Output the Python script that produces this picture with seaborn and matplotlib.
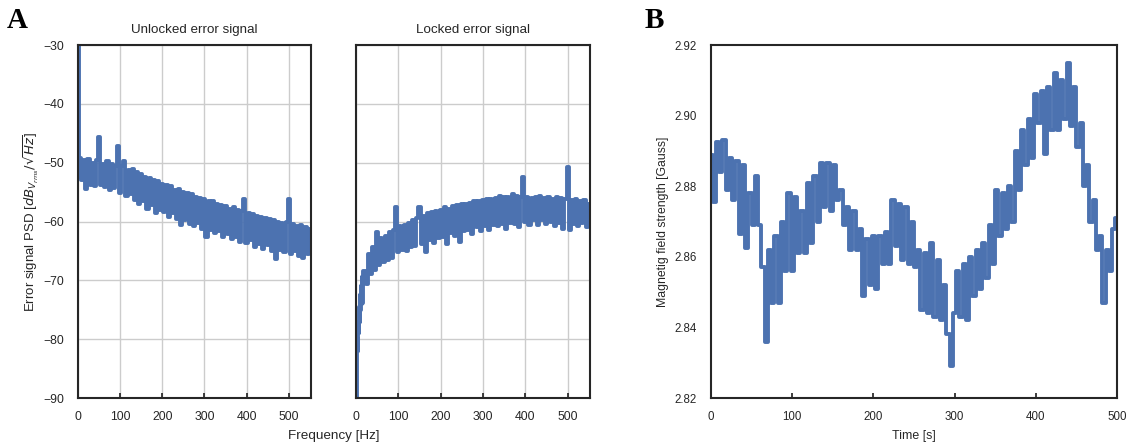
import numpy as np
import pandas as pd
import matplotlib
matplotlib.use("Agg")
import matplotlib.pyplot as plt
import seaborn as sns

# ---------------- data ----------------
# Unlocked error-signal PSD [dB]
unlocked_freq_low = [0, 1, 2, 3, 4]
unlocked_psd_low = [-30.0, -30.0, -43.0, -52.5, -50.0]
unlocked_freq_main = list(range(5, 555, 5))
unlocked_psd_main = [
    -49.2, -53.0, -49.5, -54.5, -49.3, -53.8, -50.0, -54.0, -49.6, -45.6,
    -53.8, -50.2, -54.2, -49.8, -54.6, -50.3, -54.3, -50.6, -47.2, -55.2,
    -50.6, -49.8, -55.6, -51.2, -55.4, -51.0, -56.4, -51.6, -57.0, -52.0,
    -56.6, -52.4, -57.8, -52.6, -57.2, -53.0, -58.6, -53.2, -58.0, -53.6,
    -58.4, -53.8, -59.2, -54.0, -58.6, -54.6, -59.6, -54.4, -60.6, -55.0,
    -59.8, -55.2, -60.4, -55.4, -60.8, -55.8, -60.2, -56.0, -61.2, -56.2,
    -62.6, -56.6, -61.4, -56.6, -62.0, -57.0, -61.6, -57.2, -62.6, -57.4,
    -62.2, -57.8, -63.0, -57.6, -62.6, -58.0, -63.4, -58.2, -56.2, -63.6,
    -58.6, -63.2, -58.8, -64.4, -59.0, -63.8, -59.2, -64.6, -59.4, -64.0,
    -59.6, -65.0, -59.8, -66.4, -60.0, -64.8, -60.2, -65.2, -60.0, -56.2,
    -65.6, -60.4, -65.0, -60.8, -65.8, -60.6, -66.2, -61.0, -65.6, -61.2,
]

# Locked error-signal PSD [dB]
locked_freq_low = list(range(0, 15))
locked_psd_low = [-78.0, -92.0, -85.0, -86.0, -80.0, -82.0, -77.0, -79.0,
                  -74.5, -77.0, -72.5, -75.0, -71.0, -74.0, -69.5]
locked_freq_main = list(range(15, 555, 5))
locked_psd_main = [
    -73.8, -68.4, -70.6, -65.6, -69.0, -64.4, -68.2, -61.8,
    -67.4, -62.8, -66.8, -62.4, -66.6, -61.8, -66.2, -61.4, -57.6, -65.2,
    -60.8, -64.8, -60.6, -65.0, -60.2, -64.4, -59.8, -64.2, -59.4, -57.6,
    -63.8, -59.0, -65.2, -58.6, -63.2, -58.4, -63.6, -58.2, -62.8, -58.0,
    -62.6, -57.6, -63.8, -57.8, -62.0, -57.4, -62.4, -57.2, -63.4, -57.0,
    -61.6, -57.0, -61.4, -56.8, -62.2, -56.6, -61.0, -56.6, -61.6, -56.4,
    -60.8, -56.2, -61.4, -56.2, -60.6, -56.0, -60.8, -55.6, -60.4, -55.8,
    -61.2, -55.8, -60.2, -55.4, -60.4, -55.6, -61.0, -55.8, -52.4, -60.0,
    -55.8, -60.6, -56.0, -59.8, -55.8, -60.6, -55.6, -59.8, -56.0, -60.4,
    -55.8, -60.0, -56.2, -60.8, -55.8, -60.2, -56.0, -61.2, -56.2, -50.8,
    -61.4, -56.4, -60.4, -56.2, -60.8, -56.6, -60.2, -56.4, -61.0, -57.0,
]

# Magnetic field strength over time
time_s = list(range(0, 501, 4))
field_gauss = [
    2.8888, 2.8755, 2.8925, 2.8840, 2.8930, 2.8790, 2.8880, 2.8760, 2.8870, 2.8665,
    2.8860, 2.8625, 2.8780, 2.8690, 2.8830, 2.8690, 2.8570, 2.8360, 2.8620, 2.8470,
    2.8660, 2.8470, 2.8700, 2.8560, 2.8780, 2.8560, 2.8770, 2.8610, 2.8730, 2.8610,
    2.8810, 2.8640, 2.8830, 2.8700, 2.8865, 2.8740, 2.8865, 2.8730, 2.8860, 2.8760,
    2.8790, 2.8690, 2.8740, 2.8620, 2.8730, 2.8620, 2.8680, 2.8490, 2.8650, 2.8520,
    2.8660, 2.8510, 2.8660, 2.8580, 2.8670, 2.8580, 2.8760, 2.8630, 2.8750, 2.8590,
    2.8740, 2.8580, 2.8700, 2.8570, 2.8620, 2.8450, 2.8610, 2.8440, 2.8640, 2.8430,
    2.8590, 2.8420, 2.8520, 2.8380, 2.8290, 2.8440, 2.8560, 2.8430, 2.8580, 2.8420,
    2.8600, 2.8490, 2.8620, 2.8510, 2.8640, 2.8540, 2.8690, 2.8580, 2.8790, 2.8660,
    2.8780, 2.8680, 2.8800, 2.8700, 2.8900, 2.8790, 2.8960, 2.8860, 2.8990, 2.8880,
    2.9060, 2.8980, 2.9070, 2.8890, 2.9080, 2.8960, 2.9120, 2.8960, 2.9100, 2.8990,
    2.9150, 2.8970, 2.9080, 2.8910, 2.8980, 2.8800, 2.8860, 2.8700, 2.8760, 2.8620,
    2.8660, 2.8470, 2.8620, 2.8560, 2.8680, 2.8710,
]

psd_xticks = [0, 100, 200, 300, 400, 500]
psd_yticks = [-90, -80, -70, -60, -50, -40, -30]
b_xticks = [0, 100, 200, 300, 400, 500]
b_yticks = [2.82, 2.84, 2.86, 2.88, 2.90, 2.92]

# ---------------- style ----------------
sns.set_theme(style="whitegrid", rc={
    "axes.edgecolor": ".15",
    "axes.linewidth": 1.5,
    "grid.color": "#cccccc",
    "grid.linewidth": 1.0,
})
plt.rcParams["font.family"] = ["Liberation Sans", "DejaVu Sans"]
line_color = "#4C72B0"

fig = plt.figure(figsize=(11.27, 4.44), dpi=100)
W, H = 1127, 444
def rect(l, r, t, b):
    return [l / W, 1 - b / H, (r - l) / W, (b - t) / H]

ax1 = fig.add_axes(rect(78, 311, 45, 398))
ax2 = fig.add_axes(rect(356, 590, 45, 398), sharey=ax1)
ax3 = fig.add_axes(rect(711, 1117, 45, 398))

df_u = pd.DataFrame({"f": unlocked_freq_low + unlocked_freq_main,
                     "psd": unlocked_psd_low + unlocked_psd_main})
df_l = pd.DataFrame({"f": locked_freq_low + locked_freq_main,
                     "psd": locked_psd_low + locked_psd_main})
df_b = pd.DataFrame({"t": time_s, "g": field_gauss})

common = dict(color=line_color, estimator=None, sort=False,
              drawstyle="steps-mid", lw=2.8)
sns.lineplot(data=df_u, x="f", y="psd", ax=ax1, **common)
sns.lineplot(data=df_l, x="f", y="psd", ax=ax2, **common)
sns.lineplot(data=df_b, x="t", y="g", ax=ax3, **common)

tick_fs = 8.8
for ax in (ax1, ax2):
    ax.set_xlim(0, 553)
    ax.set_ylim(-90, -30)
    ax.set_xticks(psd_xticks)
    ax.set_yticks(psd_yticks)
    ax.set_xlabel("")
    ax.set_ylabel("")
    ax.tick_params(axis="x", direction="in", length=3.5, width=1.25,
                   bottom=True, labelsize=tick_fs, colors=".15", pad=9)
    ax.tick_params(axis="y", length=0, labelsize=tick_fs, colors=".15", pad=10)
    for s in ax.spines.values():
        s.set_visible(True)
        s.set_color(".15")
        s.set_linewidth(1.5)
ax2.tick_params(axis="y", labelleft=False)

ax1.set_yticklabels(["\u221290", "\u221280", "\u221270", "\u221260",
                     "\u221250", "\u221240", "\u221230"])
ax1.set_title("Unlocked error signal", fontsize=9.6, color=".15", pad=9)
ax2.set_title("Locked error signal", fontsize=9.6, color=".15", pad=9)
ax1.set_ylabel(r"Error signal PSD [$dB_{V_{rms}}/\sqrt{Hz}$]", fontsize=9.5,
               color=".15", labelpad=1.5)

ax3.grid(False)
ax3.set_xlim(0, 500)
ax3.set_ylim(2.82, 2.92)
ax3.set_xticks(b_xticks)
ax3.set_yticks(b_yticks)
ax3.set_yticklabels([f"{v:.2f}" for v in b_yticks])
ax3.set_xlabel("")
ax3.set_ylabel("Magnetig field strength [Gauss]", fontsize=8.8, color=".15",
               labelpad=4)
ax3.tick_params(axis="x", direction="in", length=3.5, width=1.25,
                bottom=True, labelsize=8.3, colors=".15", pad=9)
ax3.tick_params(axis="y", length=0, labelsize=8.3, colors=".15", pad=10)
for s in ax3.spines.values():
    s.set_visible(True)
    s.set_color(".15")
    s.set_linewidth(1.5)

fig.text((78 + 590) / 2 / W, 1 - 436 / H, "Frequency [Hz]", ha="center",
         va="center", fontsize=9.7, color=".15")
fig.text((711 + 1117) / 2 / W, 1 - 436 / H, "Time [s]", ha="center",
         va="center", fontsize=8.9, color=".15")

fig.text(7 / W, 1 - 20 / H, "A", fontsize=21, fontweight="bold",
         family="Liberation Serif", va="center", ha="left", color="black")
fig.text(645 / W, 1 - 20 / H, "B", fontsize=21, fontweight="bold",
         family="Liberation Serif", va="center", ha="left", color="black")

fig.savefig("out.png", dpi=100)
